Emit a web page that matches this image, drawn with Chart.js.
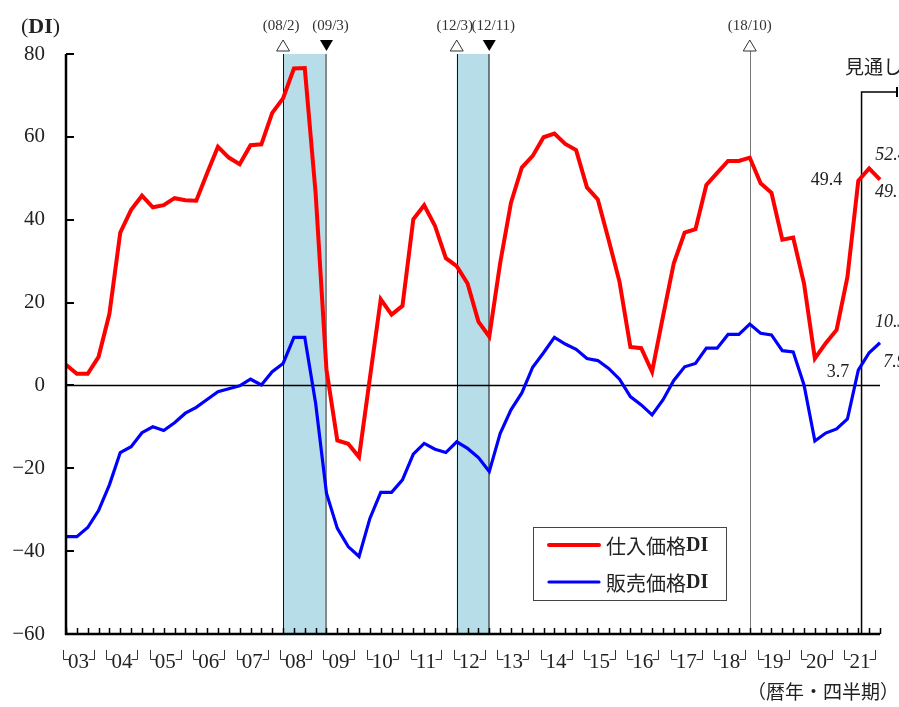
<!DOCTYPE html>
<html lang="ja">
<head>
<meta charset="utf-8">
<title>仕入価格DI・販売価格DI</title>
<script src="https://cdn.jsdelivr.net/npm/chart.js@4.4.1/dist/chart.umd.min.js"></script>
<style>
  html, body { margin: 0; padding: 0; background: #fff; }
  #chart { display: block; }
</style>
</head>
<body>
<canvas id="chart" width="899" height="707"></canvas>
<script>
// quarters 2003/1 .. 2021/4 (2021/3, 2021/4 = 見通し)
const years = ['03', '04', '05', '06', '07', '08', '09', '10', '11', '12',
               '13', '14', '15', '16', '17', '18', '19', '20', '21'];
const quarterLabels = years.flatMap(y => ['1', '2', '3', '4'].map(q => y + '/' + q));

const purchaseDI = [
  5.0, 2.8, 2.8, 6.9, 17.3, 36.9, 42.4, 45.8, 43.0, 43.5,
  45.2, 44.7, 44.6, 51.2, 57.6, 55.0, 53.4, 58.0, 58.2, 65.8,
  69.3, 76.5, 76.6, 46.4, 3.8, -13.3, -14.1, -17.3, 1.8, 20.8,
  17.1, 19.2, 40.1, 43.5, 38.5, 30.7, 28.8, 24.6, 15.4, 11.8,
  29.5, 44.1, 52.6, 55.4, 59.9, 60.8, 58.3, 56.8, 47.8, 44.9,
  35.1, 25.0, 9.3, 9.0, 3.3, 16.6, 29.5, 36.9, 37.7, 48.4,
  51.3, 54.2, 54.2, 55.0, 48.8, 46.5, 35.2, 35.7, 24.6, 6.5,
  10.2, 13.4, 26.2, 49.4, 52.4, 49.7
];
const salesDI = [
  -36.5, -36.5, -34.3, -30.2, -24.0, -16.2, -14.8, -11.4, -10.0, -10.9,
  -9.0, -6.7, -5.3, -3.4, -1.5, -0.8, -0.1, 1.5, 0.1, 3.3,
  5.3, 11.6, 11.6, -4.3, -26.0, -34.5, -38.9, -41.3, -32.1, -25.8,
  -25.8, -22.8, -16.6, -14.0, -15.4, -16.2, -13.6, -15.2, -17.4, -20.8,
  -11.6, -5.9, -1.8, 4.4, 7.9, 11.6, 10.0, 8.7, 6.5, 6.0,
  4.1, 1.5, -2.7, -4.7, -7.1, -3.5, 1.2, 4.5, 5.3, 9.0,
  9.0, 12.3, 12.3, 14.8, 12.6, 12.2, 8.4, 8.1, 0.1, -13.4,
  -11.5, -10.5, -8.1, 3.7, 7.9, 10.3
];
const yTicks = [80, 60, 40, 20, 0, -20, -40, -60];

// 景気後退期 (山 -> 谷), index into quarterLabels
const recessions = [
  { from: 20, to: 24, peakLabel: '(08/2)', troughLabel: '(09/3)' },
  { from: 36, to: 39, peakLabel: '(12/3)', troughLabel: '(12/11)' }
];
const extraPeaks = [{ at: 63, label: '(18/10)' }];
const lastActual = 73;   // 2021/2

const SERIF = '"Liberation Serif", "DejaVu Serif", serif';
const CJK = '"Noto Sans CJK JP", "Noto Sans", sans-serif';

function drawLine(ctx, x0, y0, x1, y1) {
  ctx.beginPath();
  ctx.moveTo(x0, y0);
  ctx.lineTo(x1, y1);
  ctx.stroke();
}

function triangle(ctx, cx, top, filled) {
  ctx.beginPath();
  if (filled) {
    ctx.moveTo(cx - 6.5, top);
    ctx.lineTo(cx + 6.5, top);
    ctx.lineTo(cx, top + 11);
  } else {
    ctx.moveTo(cx, top);
    ctx.lineTo(cx + 6.5, top + 11);
    ctx.lineTo(cx - 6.5, top + 11);
  }
  ctx.closePath();
  if (filled) {
    ctx.fillStyle = '#000';
    ctx.fill();
  } else {
    ctx.fillStyle = '#fff';
    ctx.fill();
    ctx.strokeStyle = '#333';
    ctx.lineWidth = 1;
    ctx.stroke();
  }
}

// draw runs of text with different fonts on one baseline
function drawRuns(ctx, x, y, runs) {
  ctx.textAlign = 'left';
  runs.forEach(r => {
    ctx.font = r.font;
    ctx.fillText(r.text, x, y);
    x += ctx.measureText(r.text).width;
  });
}

const decor = {
  id: 'decor',
  beforeDatasetsDraw(chart) {
    const { ctx, chartArea: a, scales: { x, y } } = chart;
    ctx.save();

    // shaded recessions
    recessions.forEach((r, k) => {
      const x0 = x.getPixelForValue(r.from);
      const x1 = x.getPixelForValue(r.to);
      ctx.fillStyle = 'rgb(183,221,232)';
      ctx.fillRect(x0, a.top, x1 - x0, a.bottom - a.top);
      ctx.strokeStyle = '#111';
      ctx.lineWidth = 1;
      drawLine(ctx, Math.round(x0) + 0.5, a.top, Math.round(x0) + 0.5, a.bottom);
      ctx.strokeStyle = k === 0 ? '#888' : '#111';
      ctx.lineWidth = k === 0 ? 2 : 1;
      drawLine(ctx, Math.round(x1), a.top, Math.round(x1), a.bottom);
    });

    extraPeaks.forEach(p => {
      const px = Math.round(x.getPixelForValue(p.at)) + 0.5;
      ctx.strokeStyle = '#777';
      ctx.lineWidth = 1;
      drawLine(ctx, px, 51, px, a.bottom);
    });

    // 見通し bracket
    const fx = x.getPixelForValue(lastActual + 0.3);
    ctx.strokeStyle = '#000';
    ctx.lineWidth = 1.5;
    ctx.beginPath();
    ctx.moveTo(fx, a.bottom);
    ctx.lineTo(fx, 92);
    ctx.lineTo(897, 92);
    ctx.stroke();
    ctx.lineWidth = 2;
    drawLine(ctx, 897, 87, 897, 97);

    // zero line
    const y0 = Math.round(y.getPixelForValue(0)) + 0.5;
    ctx.strokeStyle = '#000';
    ctx.lineWidth = 1.5;
    drawLine(ctx, a.left, y0, a.right, y0);
    ctx.restore();
  },
  afterDatasetsDraw(chart) {
    const { ctx, chartArea: a, scales: { x, y } } = chart;
    ctx.save();

    // axes
    ctx.strokeStyle = '#000';
    ctx.lineWidth = 2.5;
    drawLine(ctx, a.left, a.top, a.left, a.bottom + 1);
    drawLine(ctx, a.left - 1, a.bottom, a.right, a.bottom);
    ctx.lineWidth = 2;
    yTicks.forEach(v => {
      const py = Math.round(y.getPixelForValue(v));
      drawLine(ctx, a.left, py, a.left + 8, py);
    });
    ctx.lineWidth = 1.5;
    quarterLabels.forEach((q, i) => {
      const px = Math.round(x.getPixelForValue(i)) + 0.5;
      drawLine(ctx, px, a.bottom, px, a.bottom - 6);
    });

    // year labels └03┘
    ctx.fillStyle = '#222';
    ctx.strokeStyle = '#333';
    ctx.lineWidth = 1;
    ctx.font = '21px ' + SERIF;
    ctx.textAlign = 'center';
    ctx.textBaseline = 'alphabetic';
    years.forEach((yr, k) => {
      const cx = x.getPixelForValue(k * 4 + 1.15);
      const w = ctx.measureText(yr).width;
      ctx.fillText(yr, cx, 668);
      const l = Math.round(cx - w / 2 - 5) + 0.5;
      const r = Math.round(cx + w / 2 + 5) + 0.5;
      ctx.beginPath();
      ctx.moveTo(l, 650); ctx.lineTo(l, 659.5); ctx.lineTo(l + 6, 659.5);
      ctx.moveTo(r, 650); ctx.lineTo(r, 659.5); ctx.lineTo(r - 6, 659.5);
      ctx.stroke();
    });

    // turning point markers
    ctx.font = '15px ' + SERIF;
    ctx.fillStyle = '#333';
    ctx.textBaseline = 'middle';
    recessions.forEach(r => {
      const x0 = x.getPixelForValue(r.from);
      const x1 = x.getPixelForValue(r.to);
      triangle(ctx, x0, 40, false);
      triangle(ctx, x1, 40, true);
      ctx.fillStyle = '#333';
      ctx.textAlign = 'center';
      ctx.fillText(r.peakLabel, x0 - 2, 26);
      ctx.fillText(r.troughLabel, x1 + 4, 26);
    });
    extraPeaks.forEach(p => {
      const px = x.getPixelForValue(p.at);
      triangle(ctx, px, 40, false);
      ctx.fillStyle = '#333';
      ctx.textAlign = 'center';
      ctx.fillText(p.label, px, 26);
    });

    // 見通し
    ctx.fillStyle = '#222';
    ctx.font = '19px ' + CJK;
    ctx.textAlign = 'left';
    ctx.fillText('見通し', 845, 67);

    // value labels
    const px = i => x.getPixelForValue(i);
    ctx.font = '18px ' + SERIF;
    ctx.textAlign = 'right';
    ctx.fillText(purchaseDI[lastActual].toFixed(1), px(lastActual) - 16, 180);
    ctx.fillText(salesDI[lastActual].toFixed(1), px(lastActual) - 9, 372);
    ctx.font = 'italic 18px ' + SERIF;
    ctx.textAlign = 'left';
    ctx.fillText(purchaseDI[lastActual + 1].toFixed(1), px(lastActual + 1) + 6, 155);
    ctx.fillText(purchaseDI[lastActual + 2].toFixed(1), px(lastActual + 2) - 5, 192);
    ctx.fillText(salesDI[lastActual + 2].toFixed(1), px(lastActual + 2) - 5, 322);
    ctx.fillText(salesDI[lastActual + 1].toFixed(1), px(lastActual + 1) + 14, 362);

    // (DI)
    ctx.fillStyle = '#222';
    ctx.textBaseline = 'alphabetic';
    drawRuns(ctx, 21, 33, [
      { text: '(', font: '22px ' + SERIF },
      { text: 'DI', font: 'bold 22px ' + SERIF },
      { text: ')', font: '22px ' + SERIF }
    ]);

    // (暦年・四半期)
    ctx.font = '19px ' + CJK;
    ctx.textAlign = 'right';
    ctx.textBaseline = 'middle';
    ctx.fillText('（暦年・四半期）', 899, 692);

    // legend
    ctx.fillStyle = '#fff';
    ctx.fillRect(533.5, 527.5, 193, 73);
    ctx.strokeStyle = '#444';
    ctx.lineWidth = 1;
    ctx.strokeRect(533.5, 527.5, 193, 73);
    chart.data.datasets.forEach((ds, k) => {
      const ly = 545 + k * 37;
      ctx.strokeStyle = ds.borderColor;
      ctx.lineWidth = ds.borderWidth;
      ctx.lineCap = 'round';
      drawLine(ctx, 549, ly, 599, ly);
      ctx.lineCap = 'butt';
      ctx.fillStyle = '#222';
      ctx.textBaseline = 'middle';
      const name = ds.label.replace('DI', '');
      drawRuns(ctx, 606, ly + 1, [
        { text: name, font: '20px ' + CJK },
        { text: 'DI', font: 'bold 20px ' + SERIF }
      ]);
    });

    ctx.restore();
  }
};

const ctx = document.getElementById('chart').getContext('2d');
new Chart(ctx, {
  type: 'line',
  data: {
    labels: quarterLabels,
    datasets: [
      {
        label: '仕入価格DI',
        data: purchaseDI,
        borderColor: '#ff0000',
        borderWidth: 4,
        pointRadius: 0,
        tension: 0,
        fill: false
      },
      {
        label: '販売価格DI',
        data: salesDI,
        borderColor: '#0000ff',
        borderWidth: 3.2,
        pointRadius: 0,
        tension: 0,
        fill: false
      }
    ]
  },
  options: {
    responsive: false,
    animation: false,
    layout: { padding: { top: 54, right: 19, left: 0, bottom: 0 } },
    plugins: {
      legend: { display: false },
      tooltip: { enabled: false }
    },
    scales: {
      x: {
        type: 'category',
        offset: false,
        grid: { display: false, drawTicks: false },
        border: { display: false },
        ticks: { display: false },
        afterFit: s => { s.height = 73; }
      },
      y: {
        min: -60,
        max: 80,
        afterBuildTicks: s => { s.ticks = yTicks.map(v => ({ value: v })); },
        grid: { display: false, drawTicks: false },
        border: { display: false },
        ticks: {
          padding: 21,
          color: '#222',
          font: { family: SERIF, size: 21 },
          callback: v => (v < 0 ? '−' + Math.abs(v) : String(v))
        },
        afterFit: s => { s.width = 66; }
      }
    }
  },
  plugins: [decor]
});
</script>
</body>
</html>
